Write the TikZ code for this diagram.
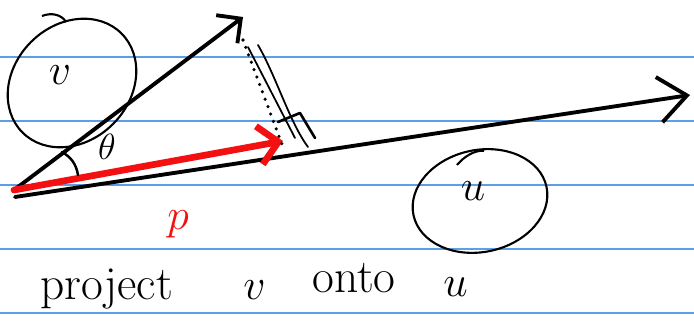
\documentclass[tikz,border=0pt]{standalone}
\usetikzlibrary{arrows.meta}

\definecolor{ruleblue}{HTML}{5B9FE6}
\definecolor{inkred}{HTML}{F21010}

\begin{document}
\begin{tikzpicture}[
    x=0.02cm, y=0.02cm,
    ruling/.style={draw=ruleblue, line width=0.8pt},
    vecarrow/.style={-{Straight Barb[length=10pt, width=20pt]}, line width=2.2pt,
                     line cap=round, line join=round},
    projarrow/.style={vecarrow, draw=inkred, line width=3.8pt},
    ring/.style={draw, line width=1.2pt},
    pencil/.style={draw, line width=1pt, line cap=round, line join=round},
    dotline/.style={draw, line width=2pt, line cap=round, dash pattern=on 0pt off 4.5pt},
    bigsym/.style={font=\fontsize{38}{40}\selectfont},
    hand/.style={font=\fontsize{27}{29}\selectfont, inner sep=0pt},
]
\useasboundingbox (0,0) rectangle (694,328);

% --- Ruled paper ---
\foreach \y in {15,79,143,207,271}
    \draw[ruling] (0,\y) -- (694,\y);

% --- End points ---
\coordinate (O)    at (14,138);
\coordinate (Ou)   at (15,131);
\coordinate (vtip) at (243,311);
\coordinate (utip) at (690,233);
\coordinate (ptip) at (283,187);
\coordinate (vend) at (243,288);
\coordinate (foot) at (283,181);

% --- Vectors v, u and projection p ---
\draw[vecarrow] (O) -- (vtip);
\draw[vecarrow, -{Straight Barb[length=16pt, width=26pt]}] (Ou) -- (utip);
\draw[projarrow, -{Straight Barb[length=11pt, width=22pt]}] (O) -- (ptip);

% --- Dropped perpendicular ---
\draw[dotline] (vend) -- (foot);
\draw[pencil] (248,281) -- (295,190);
\draw[pencil] (258,283) .. controls (276,252) and (290,205) .. (308,181);
\draw[pencil, line width=1.5pt] (278,206) -- (300,215) -- (315,190);

% --- Angle theta ---
\coordinate (thA) at (62,176);
\coordinate (thB) at (78,153);
\draw[pencil, line width=1.4pt] (thA) to[bend left=25] (thB);
\node[font=\fontsize{20}{22}\selectfont] (theta) at (107,181) {$\theta$};

% --- Circled labels ---
\draw[ring] (72,245) ellipse [x radius=70, y radius=58, rotate=45];
\draw[ring] (42,312) .. controls (52,316) and (62,313) .. (66,306);
\node[bigsym] (vlbl) at (60,253) {$v$};

\draw[ring] (480,127) ellipse [x radius=68, y radius=51, rotate=12];
\draw[ring] (457,163) .. controls (468,176) and (480,178) .. (484,177);
\node[bigsym] (ulbl) at (473,137) {$u$};

% --- Projection label ---
\node[bigsym, text=inkred] (plbl) at (178,104) {$p$};

% --- Caption ---
\node[hand, anchor=base west] (proj) at (40,28) {project};
\node[hand, anchor=base west] (vword) at (243,28) {$v$};
\node[hand, anchor=base west] (onto) at (312,35) {onto};
\node[hand, anchor=base west] (uword) at (443,31) {$u$};

\end{tikzpicture}
\end{document}
